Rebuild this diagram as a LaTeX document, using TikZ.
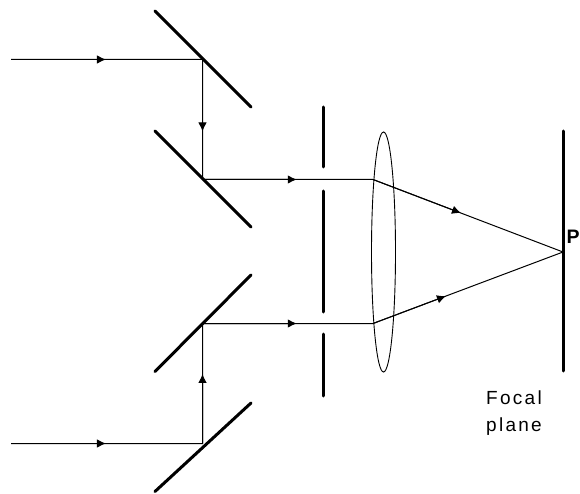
\documentclass[tikz,border=0pt]{standalone}
\usepackage{fontspec}
\setmainfont{Liberation Sans}
\usetikzlibrary{arrows.meta,calc,shapes.geometric}
\tikzset{
  ray/.style={line width=1pt,black},
  rayarrow/.style={line width=1pt,black,-{Latex[length=9pt,width=8.5pt]}},
  mirror/.style={line width=3pt,line cap=round,black},
  slit/.style={line width=3pt,line cap=round,black},
  lens/.style={line width=0.9pt,black,draw,ellipse},
  label/.style={inner sep=0pt,anchor=base west}
}
\begin{document}
\begin{tikzpicture}[x=1pt,y=-1pt]
\useasboundingbox (0,0) rectangle (580,494);
% mirrors
\draw[mirror] (155,11) -- (251,107);
\draw[mirror] (155,131) -- (251,227);
\draw[mirror] (155,371.5) -- (251,275);
\draw[mirror] (155,491.5) -- (251,403);
% aperture
\draw[slit] (323,107) -- (323,167);
\draw[slit] (323,191) -- (323,312);
\draw[slit] (323,334) -- (323,396);
% focal plane
\draw[slit] (563,131) -- (563,371);
% lens
\node[lens,minimum width=24pt,minimum height=240pt,inner sep=0pt] (lens) at (383.5,252) {};
% ray points
\coordinate (s1) at (11,59.5);
\coordinate (m1) at (202.5,59.5);
\coordinate (m2) at (202.5,179.5);
\coordinate (l1) at (373,179.5);
\coordinate (s2) at (11,443.5);
\coordinate (m4) at (202.5,443.5);
\coordinate (m3) at (202.5,323.5);
\coordinate (l2) at (373,323.5);
\coordinate (P) at (563,252);
% rays
\draw[ray] (s1) -- (m1) -- (m2) -- (l1) -- (P) -- (l2) -- (m3) -- (m4) -- (s2);
% arrowheads
\draw[rayarrow] (s1) -- ($(s1)!0.496!(m1)$);
\draw[rayarrow] (m1) -- ($(m1)!0.6!(m2)$);
\draw[rayarrow] (m2) -- ($(m2)!0.553!(l1)$);
\draw[rayarrow] (s2) -- ($(s2)!0.496!(m4)$);
\draw[rayarrow] (m4) -- ($(m4)!0.58!(m3)$);
\draw[rayarrow] (m3) -- ($(m3)!0.553!(l2)$);
\draw[rayarrow] (l1) -- ($(l1)!0.463!(P)$);
\draw[rayarrow] (l2) -- ($(l2)!0.384!(P)$);
% labels
\node[label,font=\bfseries\fontsize{19.5}{19.5}\selectfont] (plabel) at (566.5,243) {P};
\node[label,font=\fontsize{19}{19}\selectfont\addfontfeature{LetterSpace=12}] (f1) at (486,404.5) {Focal};
\node[label,font=\fontsize{19}{19}\selectfont\addfontfeature{LetterSpace=12}] (f2) at (486,431.5) {plane};
\end{tikzpicture}
\end{document}
